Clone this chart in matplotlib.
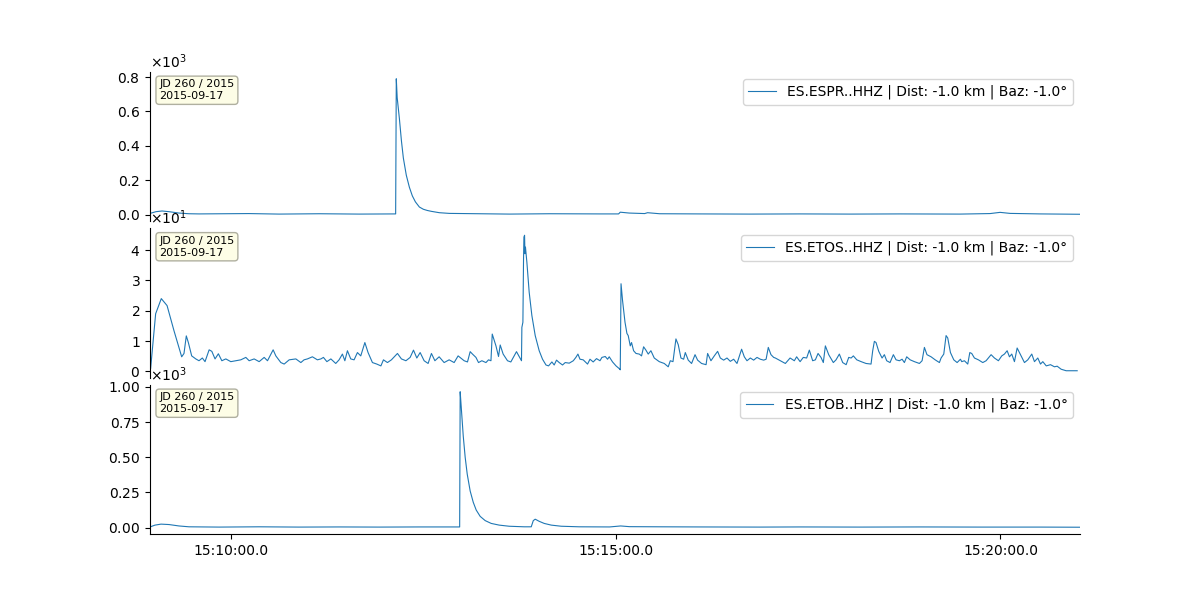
import datetime as dt
import matplotlib
matplotlib.use('Agg')
import matplotlib.pyplot as plt
import matplotlib.dates as mdates

# seconds after 15:08:57 and envelope amplitudes
start = dt.datetime(2015, 9, 17, 15, 8, 57)

espr_t = [0, 4.7, 9.4, 14.8, 22.6, 30.4, 38.2, 77, 100.6, 132, 163, 191.5,
          192.0, 192.7, 194.4, 196.0, 197.5, 199.8, 202.2, 204.5, 206.9, 210.0,
          213.1, 216.2, 219.3, 225.6, 233.4, 256.8, 280.2, 311.4, 350.5, 365.3,
          366.6, 373.6, 385.6, 387.9, 397.3, 428.5, 467.6, 506.6, 545.6, 584.6,
          631.5, 654.9, 662.7, 670.5, 693.9, 724.6]
espr_v = [8, 18, 22, 18, 10, 6, 5, 7, 4, 6, 4, 5,
          790, 680, 560, 430, 330, 230, 160, 110, 75, 45,
          32, 25, 20, 12, 8, 6, 4, 6, 5, 5,
          15, 10, 7, 12, 6, 5, 4, 5, 4, 5,
          4, 7, 14, 8, 5, 3]

etos_t = [0.5, 4.4, 8.8, 13.3, 18.7, 24.7, 26.5, 28.3, 29.9, 32.5, 35.7, 38.2,
          40.8, 42.9, 46.1, 48.2, 50.7, 53.3, 56.0, 59.1, 63.0, 66.9, 70.8, 74.7,
          77.3, 81.2, 85.1, 89.0, 91.6, 96.0, 98.1, 102.0, 104.6, 108.5, 113.7,
          117.6, 120.1, 122.7, 126.6, 130.5, 133.2, 135.2, 137.9, 141.0, 144.8,
          147.4, 150.0, 151.9, 153.9, 156.5, 159.1, 161.7, 164.3, 167.5, 170.0,
          173.4, 176.8, 180.0, 182.0, 185.1, 188.2, 192.9, 196.0, 199.5, 202.8,
          205.4, 208.0, 210.6, 213.7, 216.8, 219.4, 222.1, 225.4, 229.3, 233.2,
          237.1, 240.2, 242.3, 244.9, 247.5, 249.6, 251.4, 254.1, 256.1, 258.7,
          261.9, 263.9, 265.8, 266.8, 269.7, 271.7, 273.0, 275.3, 278.7, 281.3,
          283.9, 285.7, 287.8, 289.6, 289.9, 290.7, 291.2, 291.5, 292.0, 292.3,
          292.7, 293.8, 295.6, 297.7, 300.3, 303.4, 306.0, 308.7, 310.7, 313.3,
          315.1, 316.9, 319.0, 321.6, 323.7, 326.8, 330.0, 332.0, 333.6, 335.2,
          337.7, 341.1, 343.0, 345.5, 348.1, 350.8, 352.3, 354.9, 356.7, 358.0,
          360.6, 363.3, 365.8, 366.6, 367.2, 368.4, 370.3, 371.8, 372.8, 374.4,
          375.4, 377.0, 378.9, 381.4, 383.2, 384.8, 386.6, 388.4, 390.5, 393.1,
          397.0, 400.9, 404.0, 405.6, 407.7, 410.0, 411.8, 413.9, 416.0, 417.3,
          419.6, 422.2, 424.9, 426.9, 430.0, 433.5, 434.7, 437.3, 439.9, 442.5,
          444.6, 447.2, 449.8, 452.4, 455.0, 457.6, 461.2, 463.3, 465.4, 468.0,
          470.6, 473.2, 475.8, 478.4, 480.3, 482.0, 484.1, 486.2, 487.5, 490.1,
          492.8, 495.3, 499.0, 502.3, 504.1, 506.8, 509.3, 511.9, 514.0, 516.6,
          518.7, 520.8, 523.1, 524.9, 526.5, 529.1, 532.7, 534.8, 537.4, 540.0,
          542.7, 544.7, 546.6, 548.3, 551.0, 554.4, 558.2, 562.1, 563.4, 564.7,
          566.0, 568.1, 570.7, 572.5, 574.3, 576.9, 579.5, 581.6, 584.2, 586.3,
          588.1, 589.9, 592.6, 595.9, 599.8, 601.9, 603.7, 605.7, 608.9, 612.1,
          615.4, 616.7, 618.8, 620.6, 621.9, 624.0, 626.6, 629.2, 631.8, 632.8,
          634.9, 637.5, 639.1, 640.6, 642.7, 645.8, 649.2, 651.8, 655.7, 658.3,
          661.4, 664.0, 666.1, 668.2, 670.0, 671.8, 673.9, 676.0, 678.6, 681.7,
          684.3, 687.4, 689.5, 692.1, 694.2, 696.0, 698.7, 702.0, 705.1, 707.2,
          710.3, 714.2, 722.8]
etos_v = [1, 19, 24, 21.7, 13.4, 4.8, 5.9, 11.7, 9.5, 5.1, 4.1, 3.5,
          4.4, 3.2, 7.1, 6.6, 4.1, 5.8, 3.5, 4.1, 3.2, 3.5, 3.8, 4.6,
          3.5, 4.1, 3.2, 4.6, 3.5, 7.1, 5.1, 2.9, 2.4, 3.8, 4.1,
          2.9, 3.8, 4.1, 4.8, 3.8, 4.1, 4.6, 3.2, 4.1, 2.6,
          3.8, 5.7, 3.5, 6.8, 4.1, 3.8, 6.2, 5.1, 9.5, 6.2,
          2.9, 2.4, 1.8, 3.8, 2.9, 3.8, 5.9, 4.1, 3.5, 4.6,
          7.0, 4.4, 6.2, 3.5, 2.6, 5.9, 3.5, 4.8, 2.9, 3.8,
          2.9, 5.1, 4.4, 3.5, 3.1, 6.5, 5.7, 4.6, 2.9, 3.5,
          2.9, 3.8, 3.5, 12.3, 8.4, 4.9, 8.7, 5.7, 3.5, 3.1,
          5.1, 6.5, 4.9, 3.5, 14.5, 16.2, 37.2, 44.3, 44.9, 38.8,
          41.0, 36.0, 26.1, 18.4, 11.8, 6.8, 4.0, 2.1, 1.8, 3.1,
          2.1, 3.7, 2.9, 2.1, 2.9, 2.7, 3.5, 4.6, 5.7, 4.0,
          3.8, 2.4, 4.0, 3.1, 4.2, 3.5, 4.6, 4.9, 4.0, 4.8,
          3.1, 1.8, 0.9, 0.5, 28.9, 23.3, 16.2, 12.5, 11.8, 8.4,
          9.5, 6.8, 5.9, 5.7, 5.1, 8.1, 7.0, 5.7, 6.8, 4.4,
          3.2, 2.6, 1.5, 3.5, 3.2, 10.7, 8.8, 4.4, 4.0, 6.2,
          3.7, 2.6, 5.5, 3.7, 2.6, 2.2, 5.9, 3.5, 5.1, 6.6,
          4.4, 3.7, 4.4, 3.3, 4.0, 2.6, 7.3, 4.8, 3.5, 4.4,
          3.7, 4.6, 4.0, 3.7, 4.0, 7.9, 5.5, 4.6, 4.4, 3.8,
          3.2, 2.6, 4.4, 3.5, 4.8, 3.2, 4.6, 4.4, 7.0, 3.5,
          3.8, 5.9, 4.6, 2.9, 8.4, 5.5, 2.9, 3.8, 5.7, 2.9,
          2.2, 4.6, 4.4, 5.1, 3.8, 3.2, 2.6, 2.4, 6.8, 9.9,
          9.5, 6.6, 4.4, 5.5, 3.5, 2.9, 5.5, 3.8, 3.5, 4.0,
          2.9, 4.8, 3.8, 3.2, 2.6, 3.5, 7.9, 5.5, 4.8, 3.8,
          2.9, 4.4, 5.7, 11.8, 11.0, 6.2, 3.8, 2.9, 4.0, 3.2,
          3.5, 2.4, 6.2, 5.9, 4.4, 3.8, 2.9, 3.5, 5.5, 4.4,
          3.5, 5.1, 5.7, 6.8, 4.8, 5.7, 3.2, 7.7, 5.5, 2.9,
          3.8, 5.7, 3.2, 4.4, 2.4, 3.2, 1.8, 2.2, 1.5, 1.7,
          0.7, 0.2, 0.2]

etob_t = [0, 3.9, 8.6, 14.8, 22.6, 30.4, 53.8, 85, 116, 147.5, 178.6, 210,
          241.4, 241.8, 242.6, 244.2, 245.7, 247.3, 249.6, 252.0, 254.3, 257.4,
          261.3, 266.0, 272.2, 280.0, 291.7, 297.2, 298.8, 300.3, 303.4, 307.3,
          312.8, 320.6, 334.6, 358.3, 366.9, 373.8, 397.3, 428.5, 475.4, 506.6,
          553.4, 600.2, 647.1, 693.9, 724.6]
etob_v = [5, 18, 25, 22, 12, 6, 4, 6, 4, 5, 4, 5,
          5, 965, 860, 650, 500, 380, 260, 180, 125, 80,
          50, 30, 18, 10, 6, 6, 50, 60, 45, 30,
          18, 10, 6, 5, 12, 7, 6, 5, 4, 5,
          4, 5, 4, 4, 3]

stations = ['ES.ESPR..HHZ', 'ES.ETOS..HHZ', 'ES.ETOB..HHZ']
traces = [(espr_t, espr_v), (etos_t, etos_v), (etob_t, etob_v)]
exponents = [3, 1, 3]


def to_time(secs):
    return [start + dt.timedelta(seconds=s) for s in secs]


fig, axes = plt.subplots(3, 1, sharex=True, figsize=(12, 6))
fig.subplots_adjust(hspace=0.05)

for ax, name, (t, v), e in zip(axes, stations, traces, exponents):
    ax.plot(to_time(t), v, color='#1f77b4', lw=0.8,
            label=name + ' | Dist: -1.0 km | Baz: -1.0°')
    ax.legend(loc='upper right')
    ax.text(0.01, 0.95, 'JD 260 / 2015\n2015-09-17', transform=ax.transAxes,
            fontsize=8, va='top', ha='left',
            bbox=dict(boxstyle='round', fc='#fdfde6', ec='#b0b0a0'))
    ax.ticklabel_format(axis='y', style='sci', scilimits=(e, e), useMathText=True)
    ax.spines['top'].set_visible(False)
    ax.spines['right'].set_visible(False)

for ax in axes[:2]:
    ax.spines['bottom'].set_visible(False)
    ax.tick_params(axis='x', bottom=False, labelbottom=False)

axes[-1].set_xlim(start, start + dt.timedelta(seconds=725))
axes[-1].xaxis.set_major_locator(mdates.MinuteLocator(byminute=range(0, 60, 5)))
axes[-1].xaxis.set_major_formatter(mdates.DateFormatter('%H:%M:%S.0'))

plt.savefig('out.png', dpi=100)
